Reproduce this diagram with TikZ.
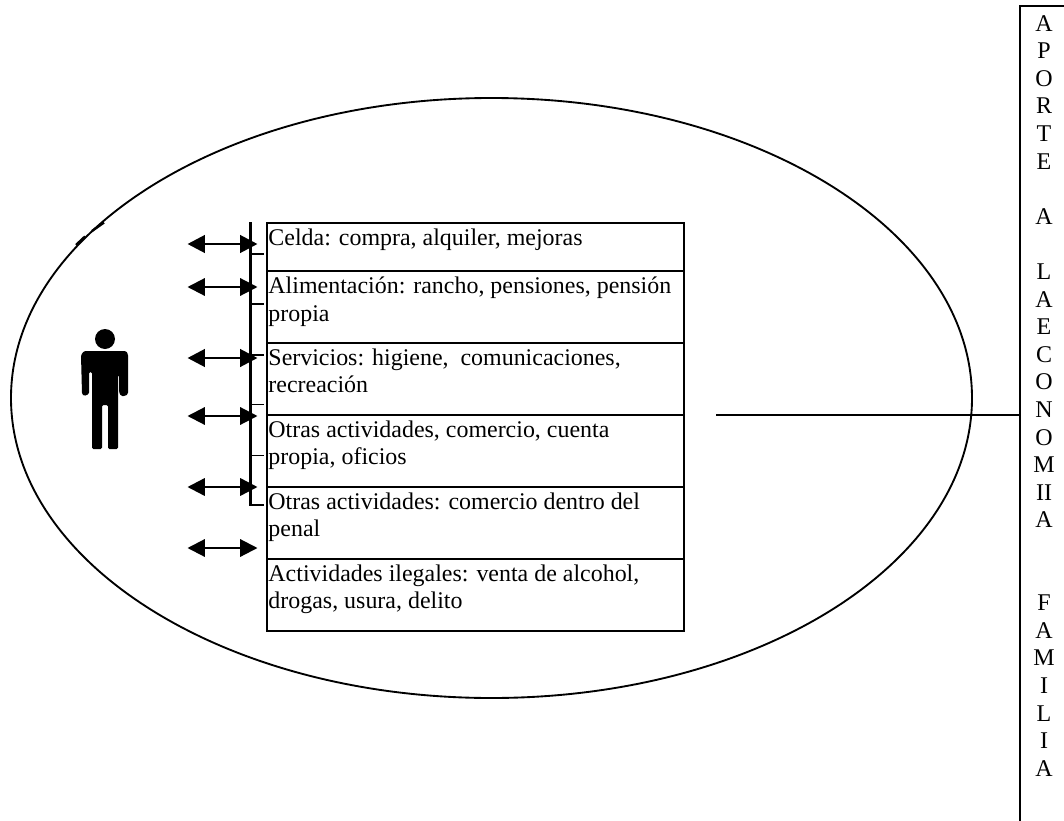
\documentclass[tikz,border=0pt]{standalone}
\usepackage{fontspec}
\setmainfont{Liberation Serif}
\usetikzlibrary{arrows.meta}
\newcommand{\rowcontent}[2]{\parbox[c][#1][t]{310.4pt}{\fontsize{17.95}{20.3}\selectfont\vspace*{5.1pt}\raggedright #2}}
\tikzset{
  rowbox/.style={draw=black,line width=1.5pt,anchor=north west,inner xsep=1.1pt,inner ysep=0pt,outer sep=0pt},
  dbl/.style={{Triangle[length=13pt,width=13pt]}-{Triangle[length=13pt,width=13pt]}},
  thicktick/.style={line width=1.4pt},
  finetick/.style={line width=.8pt},
  framel/.style={line width=1.4pt},
  letters/.style={anchor=north,inner sep=0pt,align=center,font=\fontsize{18}{20.7}\selectfont}
}
\begin{document}
\begin{tikzpicture}[x=.75pt,y=-.75pt]
\useasboundingbox (0,0) rectangle (1064,821);
% ellipse
\draw[framel] (491.5,398) ellipse [x radius=480.5, y radius=300];
\draw[line width=1.8pt] (76,245) -- (85,236.5);
\draw[line width=1.8pt] (92,231) -- (104,222.5);
% person
\fill (105,339) circle [radius=10];
\fill[rounded corners=1pt] (84,351) -- (126,351) -- (128,354) -- (128,394) -- (125,396) -- (121,396) -- (119,392) -- (119,375) -- (118,375)
  -- (118,449) -- (108,449) -- (108,405) -- (102,405) -- (102,449) -- (92,449) -- (92,372) -- (89,372) -- (89,394) -- (84,396) -- (82,394) -- (81,355) -- cycle;
% table
\node[rowbox] (r1) at (267,222.5) {\rowcontent{36pt}{Celda: compra, alquiler, mejoras}};
\node[rowbox] (r2) at (267,270.5) {\rowcontent{54pt}{Alimentación: rancho, pensiones, pensión\\propia}};
\node[rowbox] (r3) at (267,342.5) {\rowcontent{54pt}{Servicios: higiene,\ \ comunicaciones,\\recreación}};
\node[rowbox] (r4) at (267,414.5) {\rowcontent{54pt}{Otras actividades, comercio, cuenta\\propia, oficios}};
\node[rowbox] (r5) at (267,486.5) {\rowcontent{54pt}{Otras actividades: comercio dentro del\\penal}};
\node[rowbox] (r6) at (267,558.5) {\rowcontent{54pt}{Actividades ilegales: venta de alcohol,\\drogas, usura, delito}};
% bracket
\coordinate (bt) at (250.5,222);
\coordinate (bb) at (250.5,505);
\coordinate (be) at (264,505);
\draw[line width=1.6pt] (bt) -- (bb) -- (be);
\foreach \yy/\st in {254/thicktick,304/finetick,355/thicktick,404.5/thicktick,455.5/finetick}{
  \draw[\st] (250,\yy) -- (264,\yy);
}
% arrows
\foreach \nm/\yy/\lw in {a/244/2.2pt,b/287/1.6pt,c/358/2.2pt,d/416/1.6pt,e/487/1.8pt,f/548/1.6pt}{
  \coordinate (\nm l) at (187.5,\yy);
  \coordinate (\nm r) at (257.5,\yy);
  \draw[dbl,line width=\lw] (\nm l) -- (\nm r);
}
% aporte box
\coordinate (bxtl) at (1020,6);
\coordinate (bxtr) at (1064,6);
\coordinate (bxbl) at (1020,821);
\coordinate (lineend) at (1020,414.5);
\coordinate (linestart) at (716,414.5);
\draw[framel] (bxtr) -- (bxtl) -- (bxbl);
\draw[line width=1.5pt] (linestart) -- (lineend);
\node[letters] (aporte) at (1044,15) {A\\P\\O\\R\\T\\E\\[20.7pt]A\\[20.7pt]L\\A\\E\\C\\O\\N\\O\\M\\II\\A\\[41.4pt]F\\A\\M\\I\\L\\I\\A};
\end{tikzpicture}
\end{document}
